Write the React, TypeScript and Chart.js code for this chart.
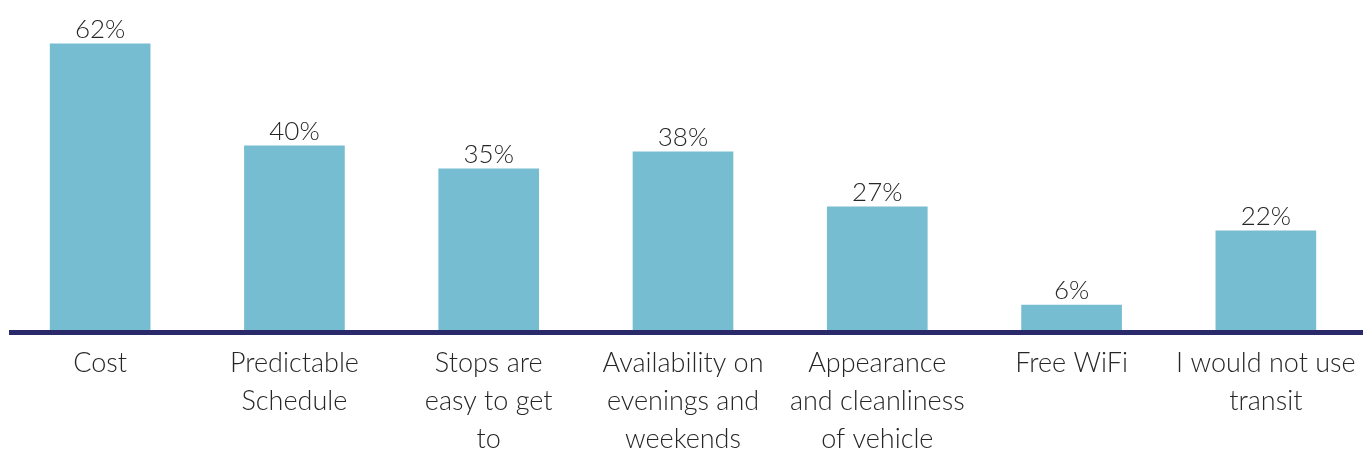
import React, { useEffect, useRef } from "react";
import { Chart, registerables } from "chart.js";

Chart.register(...registerables);

const categories: string[][] = [
  ["Cost"],
  ["Predictable", "Schedule"],
  ["Stops are", "easy to get", "to"],
  ["Availability on", "evenings and", "weekends"],
  ["Appearance", "and cleanliness", "of vehicle"],
  ["Free WiFi"],
  ["I would not use", "transit"],
];
// bar heights as drawn in the picture (labels show rounded percentages)
const values: number[] = [62, 39.9, 34.9, 38.6, 26.7, 5.4, 21.5];
const valueLabels: string[] = ["62%", "40%", "35%", "38%", "27%", "6%", "22%"];

const FONT = "Lato, 'Roboto', sans-serif";
const TEXT = "#262626";

const labelPlugin = {
  id: "valueLabels",
  afterDatasetsDraw(chart: any) {
    const { ctx } = chart;
    const meta = chart.getDatasetMeta(0);
    ctx.save();
    ctx.font = `300 26px ${FONT}`;
    ctx.fillStyle = TEXT;
    ctx.textAlign = "center";
    ctx.textBaseline = "alphabetic";
    meta.data.forEach((bar: any, i: number) => {
      ctx.fillText(valueLabels[i], bar.x, bar.y - 6);
    });
    ctx.restore();
  },
};

const axisLinePlugin = {
  id: "axisLine",
  afterDatasetsDraw(chart: any) {
    const { ctx, chartArea } = chart;
    ctx.save();
    ctx.fillStyle = "#2A2A6A";
    ctx.fillRect(9, chartArea.bottom, chart.width - 9, 5);
    ctx.restore();
  },
};

export default function App() {
  const ref = useRef<HTMLCanvasElement>(null);
  useEffect(() => {
    if (!ref.current) return;
    const chart = new Chart(ref.current, {
      type: "bar",
      data: {
        labels: categories,
        datasets: [
          {
            data: values,
            backgroundColor: "#77BDD2",
            barThickness: 100,
          },
        ],
      },
      options: {
        animation: false,
        responsive: false,
        maintainAspectRatio: false,
        layout: { padding: { left: 3, right: 0, top: 0, bottom: 0 } },
        plugins: { legend: { display: false }, tooltip: { enabled: false } },
        scales: {
          x: {
            grid: { display: false, drawTicks: false },
            border: { display: false },
            ticks: {
              color: TEXT,
              font: { family: FONT, size: 27, weight: "300", lineHeight: 1.41 },
              padding: 14,
              maxRotation: 0,
              autoSkip: false,
            },
            afterFit: (axis: any) => {
              axis.height = 126;
              axis.paddingLeft = 0;
              axis.paddingRight = 0;
            },
          },
          y: {
            display: false,
            min: 0,
            max: 71.5,
          },
        },
      },
      plugins: [labelPlugin, axisLinePlugin],
    });
    return () => chart.destroy();
  }, []);
  return (
    <div style={{ position: "absolute", left: 0, top: 0, width: 1363, height: 456, background: "#fff" }}>
      <canvas ref={ref} width={1363} height={456} />
    </div>
  );
}
